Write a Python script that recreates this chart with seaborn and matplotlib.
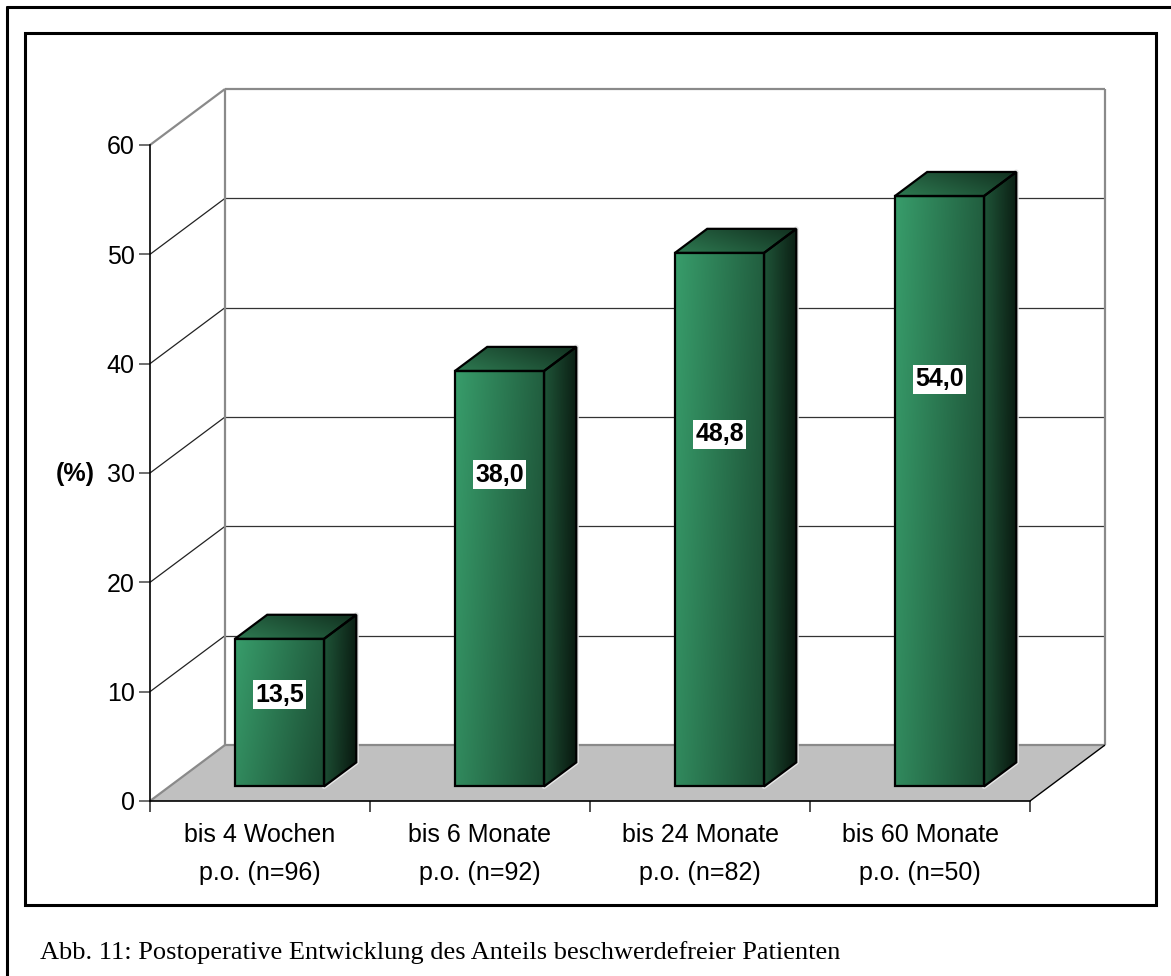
import numpy as np
import pandas as pd
import matplotlib
matplotlib.use("Agg")
import matplotlib.pyplot as plt
from matplotlib.patches import Polygon, Rectangle
from matplotlib.lines import Line2D
from matplotlib.colors import to_rgb
import seaborn as sns

# ---- data -------------------------------------------------------------
categories = [
    "bis 4 Wochen\np.o. (n=96)",
    "bis 6 Monate\np.o. (n=92)",
    "bis 24 Monate\np.o. (n=82)",
    "bis 60 Monate\np.o. (n=50)",
]
values = [13.5, 38.0, 48.8, 54.0]
y_ticks = [0, 10, 20, 30, 40, 50, 60]
y_label = "(%)"
caption = "Abb. 11: Postoperative Entwicklung des Anteils beschwerdefreier Patienten"

df = pd.DataFrame({"Zeitraum": categories, "Anteil": values})

# ---- style ------------------------------------------------------------
sns.set_style("white")
plt.rcParams["font.family"] = ["Liberation Sans", "DejaVu Sans"]
plt.rcParams["text.color"] = "black"
plt.rcParams["xtick.labelcolor"] = "black"
plt.rcParams["ytick.labelcolor"] = "black"
FS = 18

W, H = 1171, 976
fig = plt.figure(figsize=(W / 100, H / 100), dpi=100)


def fx(px):
    return px / W


def fy(py):
    return 1 - py / H


ax = fig.add_axes([fx(150), fy(801), fx(1030) - fx(150), fy(145) - fy(801)])

# oblique depth vector of the 3-D box (full floor depth) in data units
DX = 75 / 220
DY = 56 / (656 / 60)
# front / back depth of the columns as a fraction of the floor depth
D0, D1 = 0.26, 0.69
XL, XR = -0.5, len(categories) - 0.5
YMAX = y_ticks[-1]
# vertical placement of each value box, as a fraction of its column height
label_pos = [0.62, 0.75, 0.66, 0.69]

# ---- columns (drawn by seaborn, then placed inside the 3-D box) --------
sns.barplot(data=df, x="Zeitraum", y="Anteil", width=0.405, color="#2e8b5a",
            saturation=1, ax=ax, zorder=3)
bars = [p for p in ax.patches if isinstance(p, Rectangle)]

# ---- floor and walls --------------------------------------------------
floor = Polygon([(XL, 0), (XR, 0), (XR + DX, DY), (XL + DX, DY)],
                closed=True, facecolor="#c0c0c0", edgecolor="none",
                zorder=0.5, clip_on=False)
ax.add_patch(floor)
wall_kw = dict(clip_on=False, solid_capstyle="butt")
for v in y_ticks:
    if v == 0 or v == YMAX:
        ax.plot([XL, XL + DX], [v, v + DY], color="#8a8a8a", lw=1.6, zorder=1, **wall_kw)
        ax.plot([XL + DX, XR + DX], [v + DY, v + DY], color="#8a8a8a", lw=1.6, zorder=1, **wall_kw)
    else:
        ax.plot([XL, XL + DX], [v, v + DY], color="#222222", lw=0.9, zorder=1, **wall_kw)
        ax.plot([XL + DX, XR + DX], [v + DY, v + DY], color="#333333", lw=0.9, zorder=1, **wall_kw)
for xv in (XL + DX, XR + DX):
    ax.plot([xv, xv], [DY, YMAX + DY], color="#8a8a8a", lw=1.6, zorder=1, **wall_kw)
ax.plot([XR, XR + DX], [0, DY], color="black", lw=1.0, zorder=1, **wall_kw)


def shade(clip, extent, c0, c1, ax_w, ay_w, z):
    """Fill `clip` with a linear gradient from c0 to c1."""
    n = 160
    u = np.linspace(0, 1, n)
    X, Y = np.meshgrid(u, u)
    t = ax_w * X + ay_w * Y
    t = (t - t.min()) / (t.max() - t.min())
    a, b = np.array(to_rgb(c0)), np.array(to_rgb(c1))
    rgb = (1 - t)[..., None] * a + t[..., None] * b
    im = ax.imshow(rgb, extent=extent, origin="lower", aspect="auto",
                   interpolation="bilinear", zorder=z)
    im.set_clip_path(clip)
    return im


bd = D1 - D0
for bar, v, lp in zip(bars, values, label_pos):
    x0 = bar.get_x() + D0 * DX
    w = bar.get_width()
    h = bar.get_height()
    yb = D0 * DY
    bar.set_x(x0)
    bar.set_y(yb)
    bar.set_facecolor("none")
    bar.set_edgecolor("black")
    bar.set_linewidth(1.6)
    bar.set_zorder(6)
    bar.set_clip_on(False)
    clip_front = Rectangle((x0, yb), w, h, transform=ax.transData)
    shade(clip_front, [x0, x0 + w, yb, yb + h], "#389d6b", "#1a4a31", 1.0, -0.3, 5)

    xr = x0 + w
    side_pts = [(xr, yb), (xr + bd * DX, yb + bd * DY),
                (xr + bd * DX, yb + h + bd * DY), (xr, yb + h)]
    # faint light rim along the lower and right edges of the side face
    ax.plot([p[0] for p in side_pts[:3]], [p[1] for p in side_pts[:3]],
            color="#e8e8e8", lw=3.6, zorder=4.5, clip_on=False)
    side = Polygon(side_pts, closed=True, facecolor="none", edgecolor="black",
                   lw=1.6, zorder=6, clip_on=False)
    ax.add_patch(side)
    shade(side, [xr, xr + bd * DX, yb, yb + h + bd * DY], "#1f5538", "#08160e", 1.0, -0.15, 5)

    top = Polygon([(x0, yb + h), (xr, yb + h), (xr + bd * DX, yb + h + bd * DY),
                   (x0 + bd * DX, yb + h + bd * DY)],
                  closed=True, facecolor="none", edgecolor="black", lw=1.6,
                  zorder=6, clip_on=False)
    ax.add_patch(top)
    shade(top, [x0, xr + bd * DX, yb + h, yb + h + bd * DY], "#2e7b52", "#112e1e", 1.0, 0.6, 5)

    ax.text(x0 + w / 2, yb + lp * h, f"{v:.1f}".replace(".", ","),
            ha="center", va="center", fontsize=FS, fontweight="bold", zorder=8,
            color="black",
            bbox=dict(boxstyle="square,pad=0.1", facecolor="white", edgecolor="none"))

# ---- axes -------------------------------------------------------------
ax.set_xlim(XL, XR)
ax.set_ylim(0, YMAX)
ax.set_facecolor("none")
for s in ("top", "right"):
    ax.spines[s].set_visible(False)
for s in ("left", "bottom"):
    ax.spines[s].set_color("black")
    ax.spines[s].set_linewidth(1.2)
    ax.spines[s].set_zorder(2)

ax.set_yticks(y_ticks)
ax.set_yticklabels([str(t) for t in y_ticks])
ax.tick_params(axis="y", which="major", direction="out", length=8, width=1.2,
               color="#555555", pad=3, labelsize=FS, labelcolor="black", left=True)
ax.set_xticks(np.arange(len(categories) + 1) - 0.5)
ax.set_xticklabels([])
ax.set_xticks(np.arange(len(categories)), minor=True)
ax.set_xticklabels(categories, minor=True, fontsize=FS, linespacing=1.75,
                   color="black")
ax.tick_params(axis="x", which="major", direction="out", length=8, width=1.2,
               color="#333333", bottom=True)
ax.tick_params(axis="x", which="minor", length=0, pad=16)
ax.set_xlabel("")
ax.set_ylabel("")

fig.text(fx(75), fy(474), y_label, ha="center", va="center",
         fontsize=FS, fontweight="bold", color="black")

# ---- frames and caption -----------------------------------------------
fig.add_artist(Line2D([fx(7), 1.0], [fy(7), fy(7)], transform=fig.transFigure,
                      color="black", lw=2.2))
fig.add_artist(Line2D([fx(7), fx(7)], [fy(7), 0.0], transform=fig.transFigure,
                      color="black", lw=2.2))
fig.add_artist(Rectangle((fx(25), fy(905)), fx(1156) - fx(25), fy(33) - fy(905),
                         transform=fig.transFigure, fill=False,
                         edgecolor="black", lw=2.2))
fig.text(fx(40), fy(953), caption, ha="left", va="center", color="black",
         fontsize=19, family=["Liberation Serif", "DejaVu Serif"])

fig.savefig("out.png", dpi=100)
